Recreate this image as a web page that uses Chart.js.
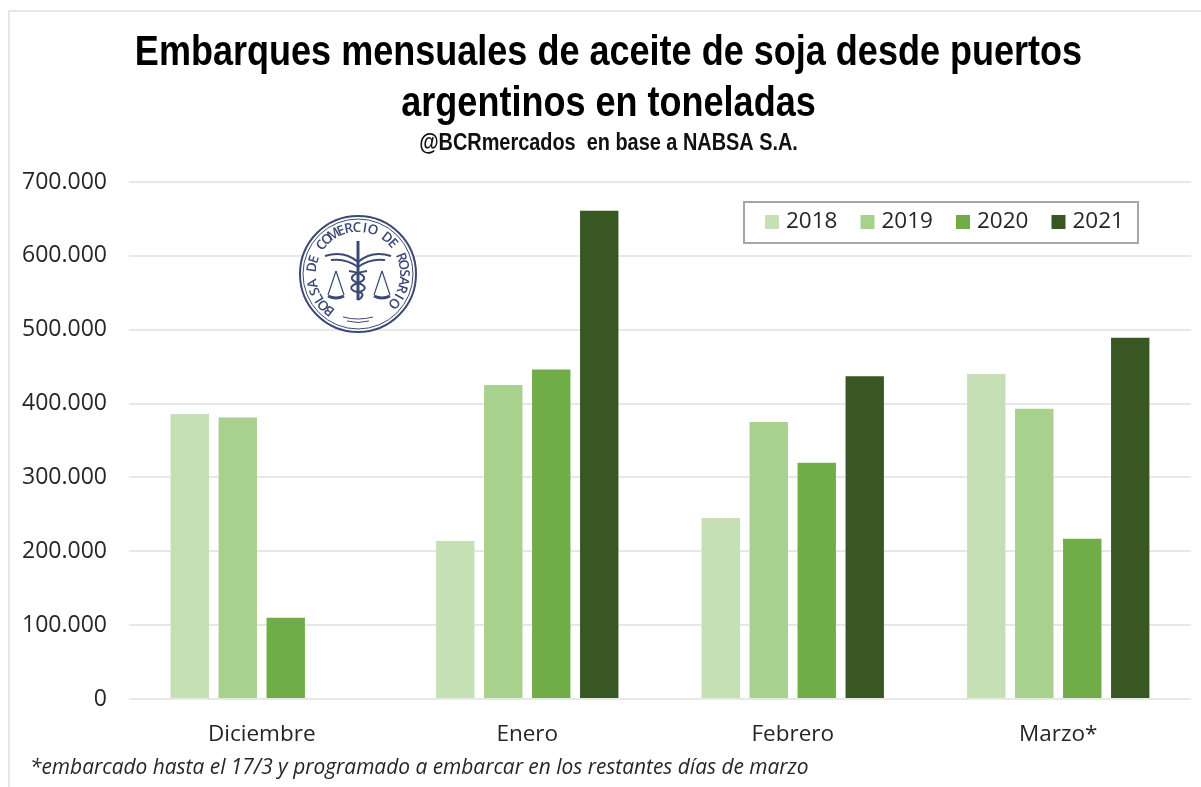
<!DOCTYPE html>
<html lang="es">
<head>
<meta charset="utf-8">
<title>Embarques mensuales de aceite de soja</title>
<script src="https://cdn.jsdelivr.net/npm/chart.js@4"></script>
<style>
  html, body { margin: 0; padding: 0; background: #fff; }
  #wrap { position: relative; width: 1201px; height: 787px; overflow: hidden; }
  /* the original is a soft screenshot */
  #chart { filter: blur(0.45px); }
</style>
</head>
<body>
<div id="wrap"><canvas id="chart" width="1201" height="787"></canvas></div>
<script>
const categories = ["Diciembre", "Enero", "Febrero", "Marzo*"];
const years = ["2018", "2019", "2020", "2021"];
const values2018 = [386000, 214000, 245000, 440000];
const values2019 = [381000, 425000, 375000, 393000];
const values2020 = [110000, 446000, 320000, 217000];
const values2021 = [null, 661000, 437000, 489000];
const yearColors = ["#c5e0b4", "#a9d18e", "#70ad47", "#385723"];
const titleLines = ["Embarques mensuales de aceite de soja desde puertos", "argentinos en toneladas"];
const subtitleText = "@BCRmercados  en base a NABSA S.A.";
const footnote = "*embarcado hasta el 17/3 y programado a embarcar en los restantes días de marzo";
const sealText = "BOLSA DE COMERCIO DE ROSARIO";

const bodyFont = "Open Sans";
const headFont = "Liberation Sans";

// no narrow bold is installed, so squeeze a box horizontally around its centre
function squeeze(chart, box, sx, dx) {
  const orig = box.draw;
  box.draw = function (area) {
    const ctx = chart.ctx;
    const cx = (box.left + box.right) / 2;
    ctx.save();
    ctx.translate(cx + dx, 0);
    ctx.scale(sx, 1);
    ctx.translate(-cx, 0);
    orig.call(box, area);
    ctx.restore();
  };
}

// frame, footnote and legend box
const framePlugin = {
  id: "frame",
  afterInit(chart) {
    squeeze(chart, chart.titleBlock, 0.838, 6);
    squeeze(chart, chart.boxes.find(b => b !== chart.titleBlock && b.options && b.options.text === subtitleText), 0.865, 6);
  },
  beforeDraw(chart) {
    const ctx = chart.ctx;
    ctx.save();
    ctx.strokeStyle = "#e8e8e8";
    ctx.lineWidth = 2;
    ctx.beginPath();
    ctx.moveTo(9, 787);
    ctx.lineTo(9, 11);
    ctx.lineTo(1201, 11);
    ctx.stroke();
    ctx.restore();
  },
  afterDraw(chart) {
    const ctx = chart.ctx;
    ctx.save();
    ctx.fillStyle = "#262626";
    ctx.font = "italic 20.9px " + bodyFont;
    ctx.textBaseline = "middle";
    ctx.fillText(footnote, 30, 768);

    ctx.fillStyle = "#fff";
    ctx.fillRect(744, 202, 394, 41);
    ctx.strokeStyle = "#a6a6a6";
    ctx.lineWidth = 2;
    ctx.strokeRect(744, 202, 394, 41);

    // legend row
    ctx.font = "22.5px " + bodyFont;
    years.forEach((y, i) => {
      const x = 765 + i * 95.5;
      ctx.fillStyle = yearColors[i];
      ctx.fillRect(x, 215, 14, 14);
      ctx.fillStyle = "#262626";
      ctx.fillText(y, x + 21, 222);
    });
    ctx.restore();
    drawSeal(ctx, 358, 274, 58);
  }
};

// seal of the Bolsa de Comercio, text on a circle plus a rough caduceus and scales
function drawSeal(ctx, cx, cy, r) {
  const navy = "#3b4a73";
  ctx.save();
  ctx.translate(cx, cy);
  ctx.filter = "blur(0.5px)";
  ctx.strokeStyle = navy;
  ctx.lineWidth = 2;
  ctx.beginPath();
  ctx.fillStyle = "#fff";
  ctx.arc(0, 0, r, 0, Math.PI * 2);
  ctx.fill();
  ctx.stroke();
  ctx.lineWidth = 1;
  ctx.beginPath();
  ctx.arc(0, 0, r - 3, 0, Math.PI * 2);
  ctx.stroke();

  ctx.fillStyle = navy;
  ctx.font = "600 13.5px " + bodyFont;
  ctx.textAlign = "center";
  ctx.textBaseline = "middle";
  const start = 128 * Math.PI / 180;
  const step = (271 * Math.PI / 180) / (sealText.length - 1);
  for (let i = 0; i < sealText.length; i++) {
    const a = start + i * step;
    ctx.save();
    ctx.rotate(a);
    ctx.translate(r - 12, 0);
    ctx.rotate(Math.PI / 2);
    ctx.fillText(sealText[i], 0, 0);
    ctx.restore();
  }

  // staff and wings
  ctx.lineWidth = 3;
  ctx.beginPath();
  ctx.moveTo(0, -33);
  ctx.lineTo(0, 26);
  ctx.stroke();
  ctx.lineWidth = 2;
  ctx.beginPath();
  ctx.moveTo(-33, -18);
  ctx.quadraticCurveTo(-14, -24, 0, -12);
  ctx.quadraticCurveTo(14, -24, 33, -18);
  ctx.moveTo(-27, -14);
  ctx.quadraticCurveTo(-12, -16, 0, -7);
  ctx.quadraticCurveTo(12, -16, 27, -14);
  // snake
  ctx.moveTo(-9, -3);
  ctx.bezierCurveTo(10, 0, 9, 6, 0, 9);
  ctx.bezierCurveTo(-9, 12, -9, 16, 0, 18);
  ctx.bezierCurveTo(7, 19, 5, 23, 0, 26);
  ctx.moveTo(9, -3);
  ctx.bezierCurveTo(-10, 0, -9, 6, 0, 9);
  ctx.bezierCurveTo(9, 12, 9, 16, 0, 18);
  ctx.stroke();
  // lines under the emblem
  ctx.lineWidth = 1;
  ctx.beginPath();
  ctx.moveTo(-15, 43);
  ctx.quadraticCurveTo(0, 47, 15, 43);
  ctx.moveTo(-11, 47);
  ctx.quadraticCurveTo(0, 50, 11, 47);
  ctx.stroke();

  // scales
  [-22, 24].forEach(x => {
    ctx.lineWidth = 1.2;
    ctx.beginPath();
    ctx.moveTo(x, -3);
    ctx.lineTo(x - 8, 21);
    ctx.moveTo(x, -3);
    ctx.lineTo(x + 8, 21);
    ctx.stroke();
    ctx.lineWidth = 3;
    ctx.beginPath();
    ctx.moveTo(x - 8, 22);
    ctx.quadraticCurveTo(x, 26, x + 8, 22);
    ctx.stroke();
  });
  ctx.restore();
}

new Chart(document.getElementById("chart"), {
  type: "bar",
  data: {
    labels: categories,
    datasets: [values2018, values2019, values2020, values2021].map((vals, i) => ({
      label: years[i],
      data: vals,
      backgroundColor: yearColors[i],
      categoryPercentage: 0.723,
      barPercentage: 0.8
    }))
  },
  options: {
    responsive: false,
    animation: false,
    layout: { padding: { left: 14, right: 10, top: 28, bottom: 0 } },
    plugins: {
      title: {
        display: true,
        text: titleLines,
        color: "#000",
        font: { family: headFont, size: 43, weight: "bold", lineHeight: 1.186 },
        padding: { top: 0, bottom: 0 }
      },
      subtitle: {
        display: true,
        text: subtitleText,
        color: "#111",
        font: { family: headFont, size: 23, weight: "bold" },
        padding: { top: 0, bottom: 24.4 }
      },
      legend: { display: false },
      tooltip: { enabled: false }
    },
    scales: {
      x: {
        grid: { display: false },
        border: { display: false },
        ticks: { color: "#262626", padding: 14, font: { family: bodyFont, size: 22.5 }, maxRotation: 0 },
        afterFit(scale) { scale.height = 88; }
      },
      y: {
        min: 0,
        max: 700000,
        grid: { color: "#e8e8e8", lineWidth: 2, drawTicks: false },
        border: { display: false },
        ticks: {
          stepSize: 100000,
          color: "#262626",
          padding: 22,
          font: { family: bodyFont, size: 23 },
          callback: v => v === 0 ? "0" : v.toLocaleString("de-DE")
        },
        afterFit(scale) { scale.width = 115; }
      }
    }
  },
  plugins: [framePlugin]
});
</script>
</body>
</html>
